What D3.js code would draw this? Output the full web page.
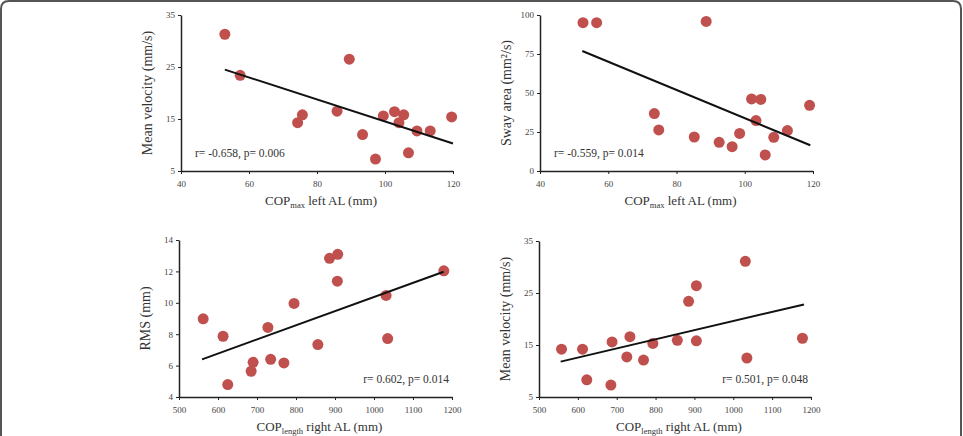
<!DOCTYPE html>
<html>
<head>
<meta charset="utf-8">
<script src="https://cdn.jsdelivr.net/npm/d3@7"></script>
<style>
  body { margin: 0; background: #fff; }
  svg { display: block; }
  text { font-family: "Liberation Serif", "DejaVu Serif", serif; fill: #333; }
</style>
</head>
<body>
<svg id="chart" width="963" height="436"></svg>
<script>
// COPmax left AL vs mean velocity
const copMaxA = [52.9, 57.4, 74.3, 75.7, 85.9, 89.5, 93.4, 97.2, 99.5, 102.8, 104.1, 105.5, 106.9, 109.4, 113.3, 119.6];
const velA = [31.3, 23.4, 14.3, 15.8, 16.5, 26.5, 12.0, 7.3, 15.6, 16.4, 14.3, 15.8, 8.5, 12.7, 12.7, 15.4];
const trendA = [[52.9, 24.5], [120, 10.3]];

// COPmax left AL vs sway area
const copMaxB = [52.6, 56.6, 73.5, 74.8, 85.2, 88.7, 92.5, 96.3, 98.5, 102.0, 103.3, 104.7, 106.0, 108.5, 112.5, 119.0];
const swayB = [95.1, 95.1, 36.8, 26.3, 21.8, 95.9, 18.4, 15.6, 24.1, 46.2, 32.3, 45.9, 10.3, 21.6, 25.9, 42.1];
const trendB = [[52.4, 76.9], [119.2, 16.5]];

// COPlength right AL vs RMS
const copLenC = [562, 613, 625, 685, 690, 728, 735, 769, 795, 856, 886, 907, 906, 1031, 1035, 1179];
const rmsC = [8.98, 7.87, 4.79, 5.64, 6.21, 8.43, 6.40, 6.17, 9.96, 7.34, 12.83, 13.09, 11.38, 10.47, 7.72, 12.04];
const trendC = [[559, 6.40], [1178.6, 11.98]];

// COPlength right AL vs mean velocity
const copLenD = [558, 612, 623, 685, 688, 726, 734, 769, 793, 856, 885, 905, 905, 1031, 1035, 1178];
const velD = [14.2, 14.2, 8.3, 7.3, 15.6, 12.7, 16.6, 12.1, 15.3, 15.9, 23.4, 26.4, 15.8, 31.1, 12.5, 16.3];
const trendD = [[555.8, 11.8], [1182, 22.8]];

const ticksMax = [40, 60, 80, 100, 120];
const ticksLen = [500, 600, 700, 800, 900, 1000, 1100, 1200];
const ticksVel = [5, 15, 25, 35];
const ticksSway = [0, 25, 50, 75, 100];
const ticksRms = [4, 6, 8, 10, 12, 14];

const svg = d3.select("#chart");

// frame (open at the bottom)
svg.append("path")
    .attr("d", "M1,436 L1,9 Q1,1 9,1 L953,1 Q961,1 961,9 L961,436")
    .attr("fill", "none")
    .attr("stroke", "#555")
    .attr("stroke-width", 2);

const panels = [
    { xs: copMaxA, ys: velA, trend: trendA, xDom: [40, 120], yDom: [5, 35], xT: ticksMax, yT: ticksVel,
      xr: [181, 453], yr: [171, 15], xMain: "COP", xSub: "max", xRest: " left AL (mm)",
      yLab: "Mean velocity (mm/s)", note: "r= -0.658, p= 0.006", noteAnchor: "start" },
    { xs: copMaxB, ys: swayB, trend: trendB, xDom: [40, 120], yDom: [0, 100], xT: ticksMax, yT: ticksSway,
      xr: [540, 813], yr: [171, 15], xMain: "COP", xSub: "max", xRest: " left AL (mm)",
      yLab: "Sway area (mm²/s)", note: "r= -0.559, p= 0.014", noteAnchor: "start" },
    { xs: copLenC, ys: rmsC, trend: trendC, xDom: [500, 1200], yDom: [4, 14], xT: ticksLen, yT: ticksRms,
      xr: [179, 452], yr: [397, 240], xMain: "COP", xSub: "length", xRest: " right AL (mm)",
      yLab: "RMS (mm)", note: "r= 0.602, p= 0.014", noteAnchor: "end" },
    { xs: copLenD, ys: velD, trend: trendD, xDom: [500, 1200], yDom: [5, 35], xT: ticksLen, yT: ticksVel,
      xr: [539, 811], yr: [397, 241], xMain: "COP", xSub: "length", xRest: " right AL (mm)",
      yLab: "Mean velocity (mm/s)", note: "r= 0.501, p= 0.048", noteAnchor: "end" }
];

panels.forEach(p => {
    const x = d3.scaleLinear().domain(p.xDom).range(p.xr);
    const y = d3.scaleLinear().domain(p.yDom).range(p.yr);
    const g = svg.append("g");

    const xAxis = g.append("g")
        .attr("transform", `translate(0, ${p.yr[0]})`)
        .call(d3.axisBottom(x).tickValues(p.xT).tickFormat(d3.format("d")).tickSize(3).tickSizeOuter(0));
    const yAxis = g.append("g")
        .attr("transform", `translate(${p.xr[0]}, 0)`)
        .call(d3.axisLeft(y).tickValues(p.yT).tickFormat(d3.format("d")).tickSize(3).tickSizeOuter(0));
    [xAxis, yAxis].forEach(a => {
        a.select(".domain").attr("stroke", "#222").attr("stroke-width", 1.5);
        a.selectAll(".tick line").attr("stroke", "#222");
        a.selectAll(".tick text")
            .style("font-family", "'Liberation Serif', serif")
            .style("font-size", "9px")
            .style("fill", "#444");
    });
    xAxis.selectAll(".tick text").attr("dy", "1.15em");

    // dots
    g.selectAll(".dot")
        .data(p.xs.map((v, i) => [v, p.ys[i]]))
        .join("circle")
        .attr("class", "dot")
        .attr("cx", d => x(d[0]))
        .attr("cy", d => y(d[1]))
        .attr("r", 5.5)
        .attr("fill", "#c0504d");

    // trend line
    g.append("path")
        .datum(p.trend)
        .attr("fill", "none")
        .attr("stroke", "#111")
        .attr("stroke-width", 2)
        .attr("d", d3.line().x(d => x(d[0])).y(d => y(d[1])));

    // note
    g.append("text")
        .attr("x", p.noteAnchor === "start" ? p.xr[0] + 14 : p.xr[1] - 3)
        .attr("y", p.yr[0] - 14)
        .attr("text-anchor", p.noteAnchor)
        .attr("font-size", 11.5)
        .text(p.note);

    // x title
    const xt = g.append("text")
        .attr("x", (p.xr[0] + p.xr[1]) / 2 + 4)
        .attr("y", p.yr[0] + 34)
        .attr("text-anchor", "middle")
        .attr("font-size", 13);
    xt.append("tspan").text(p.xMain);
    xt.append("tspan").attr("font-size", 8.5).attr("dy", 3).text(p.xSub);
    xt.append("tspan").attr("dy", -3).text(p.xRest);

    // y title
    g.append("text")
        .attr("transform", `translate(${p.xr[0] - 29}, ${(p.yr[0] + p.yr[1]) / 2}) rotate(-90)`)
        .attr("text-anchor", "middle")
        .attr("font-size", 14)
        .text(p.yLab);
});
</script>
</body>
</html>
